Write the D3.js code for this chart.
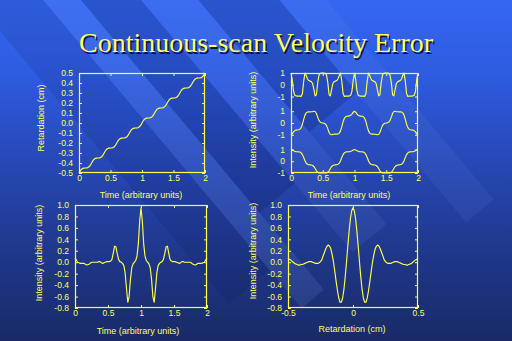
<!DOCTYPE html>
<html>
<head>
<meta charset="utf-8">
<script src="https://cdn.jsdelivr.net/npm/d3@7/dist/d3.min.js"></script>
<style>
  html, body { margin: 0; padding: 0; background: #1c2f78; }
  svg { display: block; }
</style>
</head>
<body>
<svg id="slide" width="512" height="341"></svg>
<script>
// ---- data ----------------------------------------------------------------
const titleText = "Continuous-scan Velocity Error";

// time samples, 0 .. 2 in steps of 0.02 (arbitrary units)
const timeSamples = d3.range(101).map(i => +(i * 0.02).toFixed(2));
// retardation samples, -0.5 .. 0.5 cm in steps of 0.01
const retSamples = d3.range(101).map(i => +(-0.5 + i * 0.01).toFixed(2));

// retardation vs time (cm): a staircase caused by the velocity error
const retardation = [
  -0.500, -0.478, -0.462, -0.454, -0.451, -0.450, -0.449, -0.446, -0.438, -0.422,
  -0.400, -0.378, -0.362, -0.354, -0.351, -0.350, -0.349, -0.346, -0.338, -0.322,
  -0.300, -0.278, -0.262, -0.254, -0.251, -0.250, -0.249, -0.246, -0.238, -0.222,
  -0.200, -0.178, -0.162, -0.154, -0.151, -0.150, -0.149, -0.146, -0.138, -0.122,
  -0.100, -0.078, -0.062, -0.054, -0.051, -0.050, -0.049, -0.046, -0.038, -0.022,
   0.000,  0.022,  0.038,  0.046,  0.049,  0.050,  0.051,  0.054,  0.062,  0.078,
   0.100,  0.122,  0.138,  0.146,  0.149,  0.150,  0.151,  0.154,  0.162,  0.178,
   0.200,  0.222,  0.238,  0.246,  0.249,  0.250,  0.251,  0.254,  0.262,  0.278,
   0.300,  0.322,  0.338,  0.346,  0.349,  0.350,  0.351,  0.354,  0.362,  0.378,
   0.400,  0.422,  0.438,  0.446,  0.449,  0.450,  0.451,  0.454,  0.462,  0.478,
   0.500
];

// three monochromatic signals vs time (top, middle, bottom trace)
const signalHigh = [
   1.00,  0.40, -0.55, -0.90, -0.95, -0.96, -0.96, -0.97, -1.00, -0.75,
   0.31,  0.99,  0.79,  0.49,  0.36,  0.31,  0.26,  0.11, -0.40, -0.95,
  -0.85,  0.16,  0.82,  0.98,  1.00,  1.00,  1.00,  0.98,  0.82,  0.16,
  -0.85, -0.95, -0.40,  0.11,  0.26,  0.31,  0.36,  0.49,  0.79,  0.99,
   0.31, -0.75, -1.00, -0.97, -0.96, -0.96, -0.95, -0.90, -0.55,  0.40,
   1.00,  0.40, -0.55, -0.90, -0.95, -0.96, -0.96, -0.97, -1.00, -0.75,
   0.31,  0.99,  0.79,  0.49,  0.36,  0.31,  0.26,  0.11, -0.40, -0.95,
  -0.85,  0.16,  0.82,  0.98,  1.00,  1.00,  1.00,  0.98,  0.82,  0.16,
  -0.85, -0.95, -0.40,  0.11,  0.26,  0.31,  0.36,  0.49,  0.79,  0.99,
   0.31, -0.75, -1.00, -0.97, -0.96, -0.96, -0.95, -0.90, -0.55,  0.40,
   1.00
];
const signalMid = [
  -1.00, -0.92, -0.75, -0.65, -0.60, -0.59, -0.57, -0.53, -0.39, -0.10,
   0.31,  0.67,  0.86,  0.93,  0.95,  0.95,  0.96,  0.97,  1.00,  0.98,
   0.81,  0.50,  0.22,  0.08,  0.02,  0.00, -0.02, -0.08, -0.22, -0.50,
  -0.81, -0.98, -1.00, -0.97, -0.96, -0.95, -0.95, -0.93, -0.86, -0.67,
  -0.31,  0.10,  0.39,  0.53,  0.57,  0.59,  0.60,  0.65,  0.75,  0.92,
   1.00,  0.92,  0.75,  0.65,  0.60,  0.59,  0.57,  0.53,  0.39,  0.10,
  -0.31, -0.67, -0.86, -0.93, -0.95, -0.95, -0.96, -0.97, -1.00, -0.98,
  -0.81, -0.50, -0.22, -0.08, -0.02,  0.00,  0.02,  0.08,  0.22,  0.50,
   0.81,  0.98,  1.00,  0.97,  0.96,  0.95,  0.95,  0.93,  0.86,  0.67,
   0.31, -0.10, -0.39, -0.53, -0.57, -0.59, -0.60, -0.65, -0.75, -0.92,
  -1.00
];
const signalLow = [
   1.00,  0.96,  0.89,  0.84,  0.82,  0.81,  0.80,  0.78,  0.71,  0.56,
   0.31,  0.04, -0.16, -0.26, -0.30, -0.31, -0.32, -0.36, -0.45, -0.62,
  -0.81, -0.94, -0.99, -1.00, -1.00, -1.00, -1.00, -1.00, -0.99, -0.94,
  -0.81, -0.62, -0.45, -0.36, -0.32, -0.31, -0.30, -0.26, -0.16,  0.04,
   0.31,  0.56,  0.71,  0.78,  0.80,  0.81,  0.82,  0.84,  0.89,  0.96,
   1.00,  0.96,  0.89,  0.84,  0.82,  0.81,  0.80,  0.78,  0.71,  0.56,
   0.31,  0.04, -0.16, -0.26, -0.30, -0.31, -0.32, -0.36, -0.45, -0.62,
  -0.81, -0.94, -0.99, -1.00, -1.00, -1.00, -1.00, -1.00, -0.99, -0.94,
  -0.81, -0.62, -0.45, -0.36, -0.32, -0.31, -0.30, -0.26, -0.16,  0.04,
   0.31,  0.56,  0.71,  0.78,  0.80,  0.81,  0.82,  0.84,  0.89,  0.96,
   1.00
];

// interferogram recorded vs time (distorted by the velocity error)
const interfTime = [
   0.07,  0.04,  0.00, -0.01, -0.02, -0.02, -0.02, -0.02, -0.04, -0.05,
  -0.04, -0.03, -0.01,  0.00,  0.00,  0.00,  0.00,  0.00,  0.01,  0.01,
  -0.01, -0.02, -0.01,  0.00,  0.01,  0.01,  0.01,  0.02,  0.05,  0.16,
   0.28,  0.27,  0.15,  0.05,  0.01,  0.00, -0.02, -0.06, -0.19, -0.46,
  -0.70, -0.60, -0.30, -0.10, -0.03,  0.00,  0.03,  0.11,  0.33,  0.72,
   0.95,  0.72,  0.33,  0.11,  0.03,  0.00, -0.03, -0.10, -0.30, -0.60,
  -0.70, -0.46, -0.19, -0.06, -0.02,  0.00,  0.01,  0.05,  0.15,  0.27,
   0.28,  0.16,  0.05,  0.02,  0.01,  0.01,  0.01,  0.00, -0.01, -0.02,
  -0.01,  0.01,  0.01,  0.00,  0.00,  0.00,  0.00,  0.00, -0.01, -0.03,
  -0.04, -0.05, -0.04, -0.02, -0.02, -0.02, -0.02, -0.01,  0.00,  0.04,
   0.07
];

// the same interferogram vs retardation
const interfRet = [
   0.07,  0.05,  0.04,  0.02,  0.00, -0.02, -0.03, -0.04, -0.05, -0.05,
  -0.04, -0.04, -0.03, -0.02, -0.01,  0.00,  0.01,  0.01,  0.01,  0.00,
  -0.01, -0.02, -0.02, -0.02, -0.01,  0.01,  0.04,  0.11,  0.17,  0.23,
   0.28,  0.30,  0.28,  0.23,  0.13,  0.00, -0.16, -0.33, -0.49, -0.62,
  -0.70, -0.70, -0.63, -0.48, -0.26,  0.00,  0.28,  0.54,  0.76,  0.90,
   0.95,
   0.90,  0.76,  0.54,  0.28,  0.00, -0.26, -0.48, -0.63, -0.70, -0.70,
  -0.62, -0.49, -0.33, -0.16,  0.00,  0.13,  0.23,  0.28,  0.30,  0.28,
   0.23,  0.17,  0.11,  0.04,  0.01, -0.01, -0.02, -0.02, -0.02, -0.01,
   0.00,  0.01,  0.01,  0.01,  0.00, -0.01, -0.02, -0.03, -0.04, -0.04,
  -0.05, -0.05, -0.04, -0.03, -0.02,  0.00,  0.02,  0.04,  0.05,  0.07
];

// tick values and their printed labels
const timeTicks = [0, 0.5, 1, 1.5, 2];
const timeTickLabels = ["0", "0.5", "1", "1.5", "2"];
const retTicks = [-0.5, -0.4, -0.3, -0.2, -0.1, 0, 0.1, 0.2, 0.3, 0.4, 0.5];
const retTickLabels = ["-0.5", "-0.4", "-0.3", "-0.2", "-0.1", "0.0", "0.1", "0.2", "0.3", "0.4", "0.5"];
const retAxisTicks = [-0.5, 0, 0.5];
const retAxisLabels = ["-0.5", "0", "0.5"];
const intTicks = [-0.8, -0.6, -0.4, -0.2, 0, 0.2, 0.4, 0.6, 0.8, 1.0];
const intTickLabels = ["-0.8", "-0.6", "-0.4", "-0.2", "0.0", "0.2", "0.4", "0.6", "0.8", "1.0"];
const unitTicks = [-1, 0, 1];
const unitTickLabels = ["-1", "0", "1"];

const labelTime = "Time (arbitrary units)";
const labelRet = "Retardation (cm)";
const labelInt = "Intensity (arbitrary units)";

// ---- styling -------------------------------------------------------------
const YELLOW = "#ffff45";
const TEXT = "#ffff66";
const FONT = "'Liberation Sans', Arial, sans-serif";

const svg = d3.select("#slide");
const defs = svg.append("defs");

// slide background: blue vertical gradient with diagonal ribbons
const grad = defs.append("linearGradient")
  .attr("id", "bg").attr("x1", 0).attr("y1", 0).attr("x2", 0).attr("y2", 1);
[["0", "#3467f0"], ["0.22", "#2e5be0"], ["0.5", "#2646b2"], ["0.75", "#1f378a"], ["1", "#182a66"]]
  .forEach(([o, c]) => grad.append("stop").attr("offset", o).attr("stop-color", c));

svg.append("rect").attr("width", 512).attr("height", 341).attr("fill", "url(#bg)");

const ang = 50 * Math.PI / 180;
const u = [Math.cos(ang), Math.sin(ang)];
const n = [Math.sin(ang), -Math.cos(ang)];
function ribbon(a, b, s0, s1) {
  const p = (q, s) => [q * n[0] + s * u[0], q * n[1] + s * u[1]];
  return [p(a, s0), p(b, s0), p(b, s1), p(a, s1)];
}
const ribbons = [
  { a: 33, b: 62, s0: -100, s1: 430, fill: "rgba(140,175,255,0.13)" },
  { a: 62, b: 108, s0: -100, s1: 330, fill: "rgba(5,15,70,0.20)" },
  { a: 108, b: 152, s0: -100, s1: 420, fill: "rgba(140,175,255,0.09)" },
  { a: 152, b: 214, s0: -100, s1: 300, fill: "rgba(5,15,70,0.20)" },
  { a: 214, b: 250, s0: 100, s1: 470, fill: "rgba(140,175,255,0.08)" },
  { a: -20, b: 33, s0: -100, s1: 380, fill: "rgba(5,15,70,0.12)" }
];
svg.append("g").selectAll("polygon").data(ribbons).join("polygon")
  .attr("points", d => ribbon(d.a, d.b, d.s0, d.s1).map(p => p.join(",")).join(" "))
  .attr("fill", d => d.fill);

// ---- title ---------------------------------------------------------------
const title = svg.append("g").attr("font-family", "'Liberation Serif', 'Times New Roman', serif")
  .attr("font-size", 28).attr("text-anchor", "middle");
title.append("text").attr("x", 257.5).attr("y", 53.5).attr("fill", "#0c1238").text(titleText);
title.append("text").attr("x", 256).attr("y", 52).attr("fill", TEXT).text(titleText);

// ---- panel helper --------------------------------------------------------
function panel(opt) {
  const { left, right, top, bottom } = opt;
  const g = svg.append("g");
  const x = d3.scaleLinear().domain(opt.xDomain).range([left, right]);
  const y = d3.scaleLinear().domain(opt.yDomain).range([bottom, top]);

  const fmtX = v => opt.xLabels[opt.xTicks.indexOf(v)];
  // bottom axis with inward ticks and labels
  const ax = g.append("g").attr("transform", `translate(0,${bottom})`)
    .call(d3.axisBottom(x).tickValues(opt.xTicks).tickFormat(fmtX).tickSize(-3).tickPadding(2));
  // top axis: inward ticks only
  const axT = g.append("g").attr("transform", `translate(0,${top})`)
    .call(d3.axisTop(x).tickValues(opt.xTicks).tickFormat("").tickSize(-3));

  const ay = g.append("g").attr("transform", `translate(${left},0)`)
    .call(d3.axisLeft(y).tickValues(opt.yTickVals).tickFormat((v, i) => opt.yTickText[i]).tickSize(-3).tickPadding(6));
  const ayR = g.append("g").attr("transform", `translate(${right},0)`)
    .call(d3.axisRight(y).tickValues(opt.yTickVals).tickFormat("").tickSize(-3));

  [ax, axT, ay, ayR].forEach(a => {
    a.select(".domain").remove();
    a.selectAll("line").attr("stroke", YELLOW).attr("stroke-width", 1);
    a.selectAll("text").attr("fill", TEXT).attr("font-family", FONT).attr("font-size", 8.5);
  });

  // frame
  g.append("rect").attr("x", left + 0.5).attr("y", top + 0.5)
    .attr("width", right - left - 1).attr("height", bottom - top - 1)
    .attr("fill", "none").attr("stroke", YELLOW).attr("stroke-width", 1.2);

  // traces
  const line = d3.line().x(d => x(d[0])).y(d => y(d[1]));
  opt.series.forEach(s => {
    g.append("path")
      .datum(s.xs.map((xv, i) => [xv, s.ys[i] + (s.shift || 0)]))
      .attr("d", line).attr("fill", "none")
      .attr("stroke", YELLOW).attr("stroke-width", 1.15).attr("stroke-linejoin", "round");
  });

  // axis titles
  g.append("text").attr("x", opt.xTitlePos[0]).attr("y", opt.xTitlePos[1])
    .attr("text-anchor", "middle").attr("fill", TEXT).attr("font-family", FONT)
    .attr("font-size", 9).text(opt.xTitle);
  g.append("text").attr("transform", `translate(${opt.yTitlePos[0]},${opt.yTitlePos[1]}) rotate(-90)`)
    .attr("text-anchor", "middle").attr("fill", TEXT).attr("font-family", FONT)
    .attr("font-size", 9).text(opt.yTitle);
}

// stacking of the three signals in the upper-right panel
const stackShift = [0, 3.25, 6.5];
const stackTickVals = stackShift.flatMap(s => unitTicks.map(v => v + s));
const stackTickText = stackShift.flatMap(() => unitTickLabels);

// upper left: retardation vs time
panel({
  left: 79, right: 205, top: 73, bottom: 173,
  xDomain: [0, 2], yDomain: [-0.5, 0.5],
  xTicks: timeTicks, xLabels: timeTickLabels,
  yTickVals: retTicks, yTickText: retTickLabels,
  series: [{ xs: timeSamples, ys: retardation }],
  xTitle: labelTime, xTitlePos: [141, 198],
  yTitle: labelRet, yTitlePos: [44, 118]
});

// upper right: three signals vs time
panel({
  left: 291, right: 418, top: 73, bottom: 173,
  xDomain: [0, 2], yDomain: [-1, 7.5],
  xTicks: timeTicks, xLabels: timeTickLabels,
  yTickVals: stackTickVals, yTickText: stackTickText,
  series: [
    { xs: timeSamples, ys: signalLow, shift: stackShift[0] },
    { xs: timeSamples, ys: signalMid, shift: stackShift[1] },
    { xs: timeSamples, ys: signalHigh, shift: stackShift[2] }
  ],
  xTitle: labelTime, xTitlePos: [349, 198],
  yTitle: labelInt, yTitlePos: [256, 120]
});

// lower left: interferogram vs time
panel({
  left: 75, right: 207, top: 205, bottom: 308,
  xDomain: [0, 2], yDomain: [-0.8, 1.0],
  xTicks: timeTicks, xLabels: timeTickLabels,
  yTickVals: intTicks, yTickText: intTickLabels,
  series: [{ xs: timeSamples, ys: interfTime }],
  xTitle: labelTime, xTitlePos: [138, 334],
  yTitle: labelInt, yTitlePos: [42, 253]
});

// lower right: interferogram vs retardation
panel({
  left: 288, right: 418, top: 205, bottom: 308,
  xDomain: [-0.5, 0.5], yDomain: [-0.8, 1.0],
  xTicks: retAxisTicks, xLabels: retAxisLabels,
  yTickVals: intTicks, yTickText: intTickLabels,
  series: [{ xs: retSamples, ys: interfRet }],
  xTitle: labelRet, xTitlePos: [352, 332],
  yTitle: labelInt, yTitlePos: [256, 251]
});
</script>
</body>
</html>
